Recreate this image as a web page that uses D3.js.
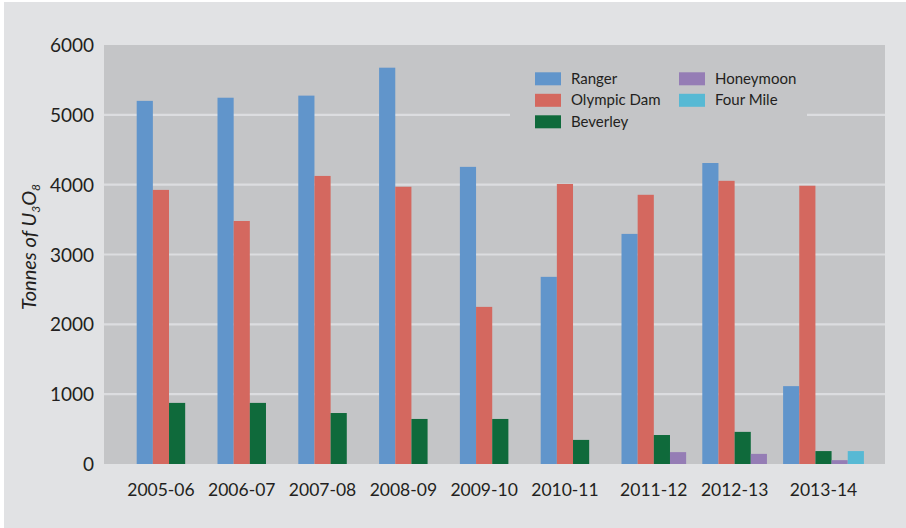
<!DOCTYPE html>
<html><head><meta charset="utf-8">
<script src="https://cdn.jsdelivr.net/npm/d3@7"></script>
<style>
html,body{margin:0;padding:0;background:#ffffff;}
svg{display:block;}
text{font-family:Lato,"Open Sans",sans-serif;fill:#231f20;}
</style></head>
<body>
<svg id="chart" width="906" height="528"></svg>
<script>
const years = ["2005-06","2006-07","2007-08","2008-09","2009-10","2010-11","2011-12","2012-13","2013-14"];
const seriesNames = ["Ranger","Olympic Dam","Beverley","Honeymoon","Four Mile"];
const ranger     = [5200,5245,5275,5675,4255,2680,3295,4310,1115];
const olympicDam = [3925,3480,4125,3970,2250,4010,3855,4055,3985];
const beverley   = [875,875,730,645,645,345,415,460,185];
const honeymoon  = [0,0,0,0,0,0,170,145,55];
const fourMile   = [0,0,0,0,0,0,0,0,185];
const yTicks = [0,1000,2000,3000,4000,5000,6000];
const colors = ["#6195cb","#d4685f","#0f6a3b","#957db5","#57b9d4"];

const values = [ranger, olympicDam, beverley, honeymoon, fourMile];
const svg = d3.select("#chart");

// backgrounds
svg.append("rect").attr("x",4).attr("y",2).attr("width",902).attr("height",526).attr("fill","#e1e2e4");
const plot = {left:104, right:885, top:45, bottom:464};
svg.append("rect").attr("x",plot.left).attr("y",plot.top)
  .attr("width",plot.right-plot.left).attr("height",plot.bottom-plot.top).attr("fill","#c4c5c7");

const y = d3.scaleLinear().domain([0,6000]).range([plot.bottom, plot.top]);
const x = d3.scaleBand().domain(years).range([136.7, 136.7+9*80.8]).paddingInner(0).paddingOuter(0);
const xs = d3.scaleBand().domain(seriesNames).range([0, x.bandwidth()]);

// gridlines
svg.append("g").selectAll("line").data(yTicks.filter(t=>t>0 && t<6000)).join("line")
  .attr("x1",plot.left).attr("x2",plot.right)
  .attr("y1",d=>y(d)).attr("y2",d=>y(d))
  .attr("stroke","#dcdde0").attr("stroke-width",2.2);

// bars
const barData = [];
years.forEach((yr,i)=>{
  seriesNames.forEach((s,j)=>{
    const v = values[j][i];
    if (v>0) barData.push({yr, s, v, c:colors[j]});
  });
});
svg.append("g").selectAll("rect").data(barData).join("rect")
  .attr("x",d=>x(d.yr)+xs(d.s))
  .attr("width",xs.bandwidth())
  .attr("y",d=>y(d.v))
  .attr("height",d=>y(0)-y(d.v))
  .attr("fill",d=>d.c);

// y axis labels
const yAxis = d3.axisLeft(y).tickValues(yTicks).tickSize(0).tickPadding(0).tickFormat(d3.format("d"));
const ga = svg.append("g").attr("transform",`translate(94,0)`).call(yAxis);
ga.select(".domain").remove();
ga.selectAll("text").attr("font-size",19).attr("font-family","Lato, sans-serif").attr("fill","#231f20").attr("dy","0.35em");

// x labels centred over the drawn bars of each category
svg.append("g").selectAll("text").data(years).join("text")
  .attr("x",(yr,i)=>{
    const present = seriesNames.filter((s,j)=>values[j][i]>0);
    const centers = present.map(s=>x(yr)+xs(s)+xs.bandwidth()/2);
    return d3.mean(centers);
  })
  .attr("y",496)
  .attr("text-anchor","middle")
  .attr("font-size",17.5)
  .text(d=>d);

// axis title
const title = svg.append("text")
  .attr("transform","translate(36,247) rotate(-90)")
  .attr("text-anchor","middle")
  .attr("font-size",20)
  .attr("font-style","italic");
title.append("tspan").text("Tonnes of U");
title.append("tspan").attr("font-size",12).attr("dy",4).text("3");
title.append("tspan").attr("dy",-4).text("O");
title.append("tspan").attr("font-size",12).attr("dy",4).text("8");

// legend
const leg = svg.append("g");
leg.append("rect").attr("x",510).attr("y",58).attr("width",297).attr("height",80).attr("fill","#c4c5c7");
const legPos = [
  {col:0,row:0},{col:0,row:1},{col:0,row:2},{col:1,row:0},{col:1,row:1}
];
seriesNames.forEach((s,j)=>{
  const p = legPos[j];
  const gx = p.col===0 ? 535 : 679;
  const gy = 72.3 + p.row*21.5;
  leg.append("rect").attr("x",gx).attr("y",gy).attr("width",26).attr("height",13).attr("fill",colors[j]);
  leg.append("text").attr("x",gx+36).attr("y",gy+11.5).attr("font-size",15).text(s);
});
</script>
</body></html>
